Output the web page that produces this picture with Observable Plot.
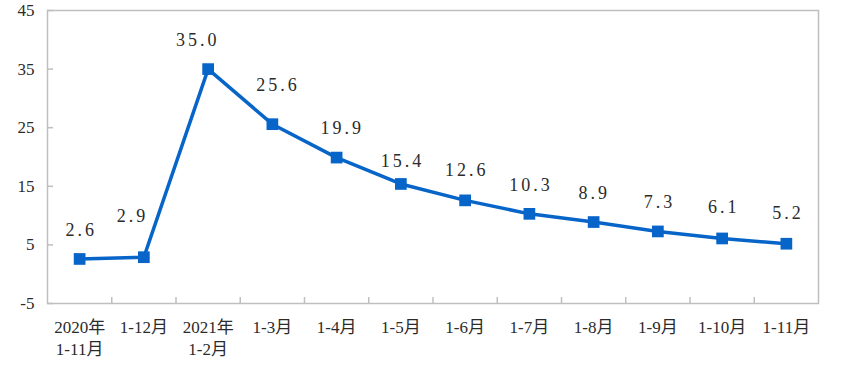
<!DOCTYPE html>
<html>
<head>
<meta charset="utf-8">
<script src="https://cdn.jsdelivr.net/npm/d3@7"></script>
<script src="https://cdn.jsdelivr.net/npm/@observablehq/plot@0.6"></script>
<style>
  html, body { margin: 0; padding: 0; background: #fff; }
  #chart svg { display: block; }
</style>
</head>
<body>
<div id="chart"></div>
<script>
const categories = ["2020年\n1-11月", "1-12月", "2021年\n1-2月", "1-3月", "1-4月", "1-5月", "1-6月", "1-7月", "1-8月", "1-9月", "1-10月", "1-11月"];
const values = [2.6, 2.9, 35.0, 25.6, 19.9, 15.4, 12.6, 10.3, 8.9, 7.3, 6.1, 5.2];
const labels = ["2.6", "2.9", "35.0", "25.6", "19.9", "15.4", "12.6", "10.3", "8.9", "7.3", "6.1", "5.2"];
const yTicks = [-5, 5, 15, 25, 35, 45];

// layout only: label offsets in pixels
const labelDx = [0, -13, -12, 4, 4, 0, 0, 0, -1, 0, 0, 0];
const labelDy = [-29, -41, -29, -39, -29, -23, -30, -29, -29, -29, -31, -30];

const data = values.map((v, i) => ({i, v, label: labels[i]}));
const boundaries = d3.range(1, categories.length).map(i => i - 0.5);

const W = 845, H = 369, mT = 10, mB = 66, mL = 47, mR = 27;
const plotH = H - mT - mB, plotW = W - mL - mR;
const blue = "#0765c9";
const textColor = "#2b2b2b";
const serif = "'Liberation Serif', 'Noto Sans CJK SC', serif";

const labelMarks = data.map((d, k) =>
  Plot.text([d], {x: "i", y: "v", text: "label", dx: labelDx[k] + 1.5, dy: labelDy[k], fontSize: 18, fill: textColor, fontFamily: serif})
);

const chart = Plot.plot({
  width: W,
  height: H,
  marginTop: mT,
  marginBottom: mB,
  marginLeft: mL,
  marginRight: mR,
  style: {fontFamily: serif, background: "#fff"},
  x: {domain: [-0.5, categories.length - 0.5]},
  y: {domain: [-5, 45]},
  marks: [
    Plot.frame({stroke: "#bfbfbf", strokeWidth: 1.5}),
    Plot.ruleX(boundaries, {x: d => d, stroke: "#bfbfbf", strokeWidth: 1.5, insetTop: plotH - 6}),
    Plot.ruleY(yTicks, {y: d => d, stroke: "#bfbfbf", strokeWidth: 1.5, insetRight: plotW - 6}),
    Plot.axisY(yTicks, {tickSize: 0, tickPadding: 13, fontSize: 17, fill: textColor, label: null, tickFormat: d => String(d)}),
    Plot.axisX(d3.range(categories.length), {tickSize: 0, tickPadding: 14, fontSize: 17, lineHeight: 1.3, fill: textColor, label: null, tickFormat: i => categories[i]}),
    Plot.line(data, {x: "i", y: "v", stroke: blue, strokeWidth: 3.5}),
    Plot.dot(data, {x: "i", y: "v", symbol: "square", r: 6.6, fill: blue, stroke: null}),
    ...labelMarks
  ]
});
// widen data-label letter spacing (SimSun-like look)
chart.querySelectorAll("g[aria-label='text'] text").forEach(t => t.setAttribute("letter-spacing", "3"));
document.getElementById("chart").appendChild(chart);
</script>
</body>
</html>
